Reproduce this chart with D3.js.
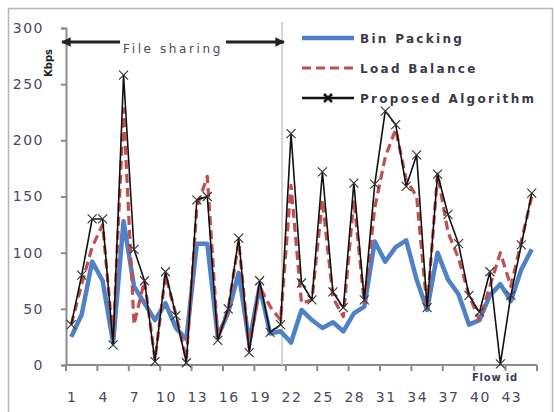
<!DOCTYPE html>
<html>
<head>
<meta charset="utf-8">
<script src="https://cdn.jsdelivr.net/npm/d3@7"></script>
<style>
  body { margin: 0; background: #fff; }
  text { font-family: "DejaVu Sans", sans-serif; }
</style>
</head>
<body>
<div id="chart"></div>
<script>
// flow ids 1..45
const flows = d3.range(1, 46);
const xTickLabels = [1, 4, 7, 10, 13, 16, 19, 22, 25, 28, 31, 34, 37, 40, 43];
const yTicks = [0, 50, 100, 150, 200, 250, 300];

const binPacking = [25, 45, 92, 75, 20, 128, 70, 55, 40, 55, 33, 23, 108, 108, 25,
  47, 82, 20, 70, 28, 30, 20, 49, 40, 33, 38, 30, 46, 52, 110,
  92, 105, 111, 76, 49, 100, 76, 63, 36, 40, 62, 72, 57, 85, 103];
const loadBalance = [36, 72, 105, 125, 22, 228, 36, 75, 5, 80, 45, 5, 140, 168, 25,
  50, 110, 15, 70, 52, 40, 160, 55, 58, 147, 60, 43, 147, 55, 140,
  185, 210, 165, 150, 50, 170, 118, 95, 62, 40, 70, 100, 70, 110, 150];
const proposed = [36, 80, 130, 130, 18, 258, 103, 75, 3, 83, 44, 2, 147, 150, 22,
  50, 113, 11, 75, 29, 36, 206, 73, 58, 172, 65, 51, 162, 58, 161,
  226, 214, 159, 187, 51, 170, 134, 108, 62, 47, 83, 1, 62, 107, 153];

const series = [
  { name: "Bin Packing", values: binPacking, color: "#4f81c7", width: 4.5, dash: null },
  { name: "Load Balance", values: loadBalance, color: "#c0504d", width: 3.2, dash: "9,5" },
  { name: "Proposed Algorithm", values: proposed, color: "#111", width: 1.6, dash: null, marker: true }
];

const width = 554, height = 412;
const plot = { left: 66, right: 537, top: 28, bottom: 365 };

const svg = d3.select("#chart").append("svg")
  .attr("width", width)
  .attr("height", height);

// outer frame
svg.append("rect")
  .attr("x", 8.5).attr("y", 8.5)
  .attr("width", 544).attr("height", 420)
  .attr("fill", "none")
  .attr("stroke", "#b5b5b5")
  .attr("stroke-width", 1.5);

const xBand = d3.scaleBand().domain(flows).range([plot.left, plot.right]).padding(0);
const x = d => xBand(d) + xBand.bandwidth() / 2;
const y = d3.scaleLinear().domain([0, 300]).range([plot.bottom, plot.top]);

const axisColor = "#8c8c8c";
const labelColor = "#4a4a5a";

// y axis
const yAxis = svg.append("g")
  .attr("transform", `translate(${plot.left},0)`)
  .call(d3.axisLeft(y).tickValues(yTicks).tickSize(5).tickPadding(17));
yAxis.select(".domain").attr("stroke", axisColor).attr("stroke-width", 2);
yAxis.selectAll(".tick line").attr("stroke", axisColor).attr("stroke-width", 2);
yAxis.selectAll(".tick text")
  .attr("fill", labelColor)
  .style("font-size", "14px")
  .style("letter-spacing", "1.5px");

// x axis baseline
svg.append("line")
  .attr("x1", plot.left).attr("x2", plot.right)
  .attr("y1", plot.bottom).attr("y2", plot.bottom)
  .attr("stroke", axisColor).attr("stroke-width", 2);

// x tick marks at category boundaries, every 3 flows
const boundaries = d3.range(0, 46, 3);
svg.append("g").selectAll("line")
  .data(boundaries)
  .join("line")
  .attr("x1", d => d === 45 ? plot.right : xBand(d + 1))
  .attr("x2", d => d === 45 ? plot.right : xBand(d + 1))
  .attr("y1", plot.bottom)
  .attr("y2", plot.bottom + 6)
  .attr("stroke", axisColor)
  .attr("stroke-width", 2);

svg.append("g").selectAll("text")
  .data(xTickLabels)
  .join("text")
  .attr("x", d => x(d) + 1)
  .attr("y", 402)
  .attr("text-anchor", "middle")
  .attr("fill", labelColor)
  .style("font-size", "14px")
  .style("letter-spacing", "1.5px")
  .text(d => d);

// separator between the two scenarios
svg.append("line")
  .attr("x1", x(21) + 1.5).attr("x2", x(21) + 1.5)
  .attr("y1", 22).attr("y2", plot.bottom)
  .attr("stroke", "#c8c8c8")
  .attr("stroke-width", 1.5);

// lines
const line = d3.line()
  .x((d, i) => x(flows[i]))
  .y(d => y(d));

series.forEach(s => {
  svg.append("path")
    .datum(s.values)
    .attr("fill", "none")
    .attr("stroke", s.color)
    .attr("stroke-width", s.width)
    .attr("stroke-dasharray", s.dash)
    .attr("stroke-linejoin", "round")
    .attr("d", line);
});

// x markers for proposed algorithm
const xMark = r => `M${-r},${-r}L${r},${r}M${-r},${r}L${r},${-r}`;
svg.append("g").selectAll("path")
  .data(proposed)
  .join("path")
  .attr("transform", (d, i) => `translate(${x(flows[i])},${y(d)})`)
  .attr("d", xMark(4.5))
  .attr("stroke", "#333")
  .attr("stroke-width", 1.1)
  .attr("fill", "none");

// "File sharing" annotation with arrows
const arrowY = 42;
svg.append("defs").append("marker")
  .attr("id", "arrow")
  .attr("viewBox", "0 0 10 10")
  .attr("refX", 9).attr("refY", 5)
  .attr("markerWidth", 3.2).attr("markerHeight", 3.2)
  .attr("orient", "auto-start-reverse")
  .append("path")
  .attr("d", "M0,0L10,5L0,10Z")
  .attr("fill", "#222");

svg.append("line")
  .attr("x1", 120).attr("x2", 62)
  .attr("y1", arrowY).attr("y2", arrowY)
  .attr("stroke", "#222").attr("stroke-width", 3)
  .attr("marker-end", "url(#arrow)");
svg.append("line")
  .attr("x1", 226).attr("x2", 284)
  .attr("y1", arrowY).attr("y2", arrowY)
  .attr("stroke", "#222").attr("stroke-width", 3)
  .attr("marker-end", "url(#arrow)");
svg.append("text")
  .attr("x", 173).attr("y", 53)
  .attr("text-anchor", "middle")
  .attr("fill", labelColor)
  .style("font-size", "12px")
  .style("letter-spacing", "2.6px")
  .text("File sharing");

// axis titles
svg.append("text")
  .attr("transform", "translate(52,63) rotate(-90)")
  .attr("text-anchor", "middle")
  .attr("fill", "#222")
  .style("font-size", "10px")
  .style("font-weight", "bold")
  .text("Kbps");
svg.append("text")
  .attr("x", 495).attr("y", 381)
  .attr("text-anchor", "middle")
  .attr("fill", "#3a3a5a")
  .style("font-size", "10px")
  .style("font-weight", "bold")
  .style("letter-spacing", "0.8px")
  .text("Flow id");

// legend
const legend = svg.append("g").attr("transform", "translate(300,38)");
series.forEach((s, i) => {
  const g = legend.append("g").attr("transform", `translate(0,${i * 30})`);
  g.append("line")
    .attr("x1", 2).attr("x2", 54)
    .attr("stroke", s.color)
    .attr("stroke-width", s.marker ? 2.5 : s.width)
    .attr("stroke-dasharray", s.dash);
  if (s.marker) {
    g.append("path")
      .attr("transform", "translate(28,0)")
      .attr("d", xMark(4))
      .attr("stroke", "#111")
      .attr("stroke-width", 2.5);
  }
  g.append("text")
    .attr("x", 60).attr("y", 5)
    .attr("fill", "#3a3a4a")
    .style("font-size", "12px")
    .style("font-weight", "bold")
    .style("letter-spacing", "2.3px")
    .text(s.name);
});
</script>
</body>
</html>
